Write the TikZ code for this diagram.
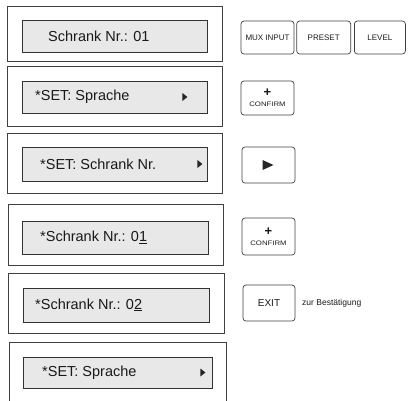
\documentclass[tikz,border=0pt]{standalone}
\usepackage{fontspec}
\setmainfont{Liberation Sans}
\usetikzlibrary{positioning}

\begin{document}
\begin{tikzpicture}[x=1pt, y=-1pt,
   panel/.style = {draw=black!75, line width=0.8pt, fill=white, inner sep=0pt},
   display/.style = {draw=black!80, line width=0.8pt, fill=black!9, inner sep=0pt},
   disptext/.style = {anchor=west, inner sep=0pt, font=\fontsize{14.5}{16}\selectfont, text=black!90},
   key/.style = {draw=black!75, line width=0.7pt, rounded corners=3pt, inner sep=0pt,
                 minimum width=53pt, text=black!90},
   keytext/.style = {font=\fontsize{8}{9}\selectfont},
   cursor/.style = {fill=black!85}]
   \useasboundingbox (0,0) rectangle (408,400);

   % row 1
   \node[panel, minimum width=215pt, minimum height=55pt] (p1) at (114.5,33.5) {};
   \node[display, minimum width=185pt, minimum height=32pt] (d1) at (114.5,36) {};
   \node[disptext] (t1) at (48,36) {Schrank Nr.: 01};
   \node[key, keytext, minimum height=33pt] (k_mux) at (267.5,37.5) {MUX INPUT};
   \node[key, keytext, minimum height=33pt, minimum width=54pt] (k_pre) [right = 2pt of k_mux] {PRESET};
   \node[key, keytext, minimum height=33pt, minimum width=51pt] (k_lev) [right = 3pt of k_pre] {LEVEL};

   % row 2
   \node[panel, minimum width=215pt, minimum height=60pt] (p2) at (114.5,96) {};
   \node[display, minimum width=185pt, minimum height=32pt] (d2) at (114.5,97) {};
   \node[disptext] (t2) at (35,97) {*SET: Sprache};
   \fill[cursor] ([xshift=-25pt,yshift=4pt]d2.east) -- ++(5,4) -- ++(-5,4) -- cycle;
   \node[key, minimum height=34pt, align=center] (k_conf1) at (267.5,98)
      {{\fontsize{13}{10}\selectfont\textbf{+}}\\[-2pt]\scalebox{1.2}[1]{\fontsize{6.5}{7}\selectfont CONFIRM}};

   % row 3
   \node[panel, minimum width=215pt, minimum height=60pt] (p3) at (114.5,163) {};
   \node[display, minimum width=185pt, minimum height=34pt] (d3) at (114.5,164) {};
   \node[disptext] (t3) at (40,164) {*SET: Schrank Nr.};
   \fill[cursor] ([xshift=-10pt,yshift=4pt]d3.east) -- ++(5,4) -- ++(-5,4) -- cycle;
   \node[key, minimum height=36pt] (k_right) at (268.5,165) {};
   \fill[cursor] ([xshift=-6pt,yshift=5pt]k_right.center) -- ++(11,5) -- ++(-11,5) -- cycle;

   % row 4
   \node[panel, minimum width=215pt, minimum height=61pt] (p4) at (115.5,234.5) {};
   \node[display, minimum width=186pt, minimum height=33pt] (d4) at (115,237.5) {};
   \node[disptext] (t4) at (40,237.5) {*Schrank Nr.: 0\underline{1}};
   \node[key, minimum height=37pt, align=center] (k_conf2) at (268.5,236.5)
      {{\fontsize{13}{10}\selectfont\textbf{+}}\\[-2pt]\scalebox{1.2}[1]{\fontsize{6.5}{7}\selectfont CONFIRM}};

   % row 5
   \node[panel, minimum width=216pt, minimum height=60pt] (p5) at (116,303) {};
   \node[display, minimum width=186pt, minimum height=34pt] (d5) at (116,305) {};
   \node[disptext] (t5) at (35,305) {*Schrank Nr.: 0\underline{2}};
   \node[key, minimum height=36pt, minimum width=52pt, font=\fontsize{10}{11}\selectfont] (k_exit) at (269,303) {EXIT};
   \node[anchor=west, inner sep=0pt, font=\fontsize{8.5}{9}\selectfont, text=black!90] (l_exit) at (302,303) {zur Bestätigung};

   % row 6 (cut off at the bottom)
   \draw[black!75, line width=0.8pt] (9,401) |- (226,342) -- (226,401);
   \node[display, minimum width=189pt, minimum height=31pt] (d6) at (117.5,372.5) {};
   \node[disptext] (t6) at (42,373) {*SET: Sprache};
   \fill[cursor] ([xshift=-12pt,yshift=4pt]d6.east) -- ++(5,4) -- ++(-5,4) -- cycle;
\end{tikzpicture}
\end{document}
